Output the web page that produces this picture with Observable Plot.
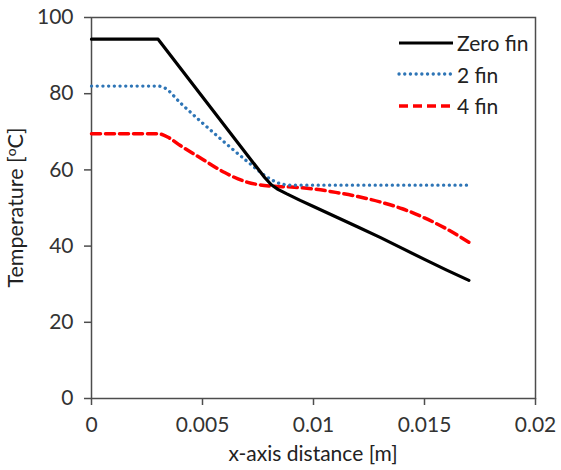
<!DOCTYPE html>
<html><head><meta charset="utf-8">
<script src="https://cdn.jsdelivr.net/npm/d3@7"></script>
<script src="https://cdn.jsdelivr.net/npm/@observablehq/plot@0.6"></script>
<style>
body{margin:0;background:#fff;}
#wrap{position:relative;width:561px;height:470px;font-family:Lato,"Open Sans",sans-serif;}
#legend{position:absolute;left:396px;top:27px;font-size:21px;color:#222;}
#legend .row{display:flex;align-items:center;height:31.5px;}
#legend svg{margin-right:3px;}
</style></head>
<body><div id="wrap"><div id="legend"></div></div>
<script>
const seriesNames = ["Zero fin", "2 fin", "4 fin"];
const colors = ["#000000", "#2E75B6", "#FF0000"];

const xZero = [0, 0.003, 0.0078, 0.0081, 0.0084, 0.0088, 0.0094, 0.010, 0.011, 0.012, 0.013, 0.014, 0.015, 0.016, 0.017];
const yZero = [94.3, 94.3, 58.0, 56.1, 54.9, 53.7, 52.0, 50.4, 47.7, 45, 42.3, 39.4, 36.5, 33.7, 31];

const xTwo = [0, 0.003, 0.0033, 0.004, 0.005, 0.006, 0.007, 0.008, 0.0085, 0.009, 0.010, 0.012, 0.014, 0.016, 0.017];
const yTwo = [82, 82, 81.5, 77.6, 72.3, 67.2, 62.3, 57.8, 56.4, 56, 56, 56, 56, 56, 56];

const xFour = [0, 0.003, 0.0035, 0.004, 0.005, 0.006, 0.007, 0.008, 0.009, 0.010, 0.011, 0.012, 0.013, 0.014, 0.015, 0.016, 0.017];
const yFour = [69.5, 69.5, 68.4, 66.4, 62.8, 59.3, 56.8, 55.8, 55.5, 55, 54.1, 53, 51.6, 49.8, 47.4, 44.5, 41];

const xTicks = [0, 0.005, 0.01, 0.015, 0.02];
const xTickLabels = ["0", "0.005", "0.01", "0.015", "0.02"];
const yTicks = [0, 20, 40, 60, 80, 100];

const toRows = (xs, ys) => xs.map((x, i) => ({x, y: ys[i]}));
const zero = toRows(xZero, yZero);
const two = toRows(xTwo, yTwo);
const four = toRows(xFour, yFour);

const axisColor = "#4d4d4d";
const plot = Plot.plot({
  width: 561,
  height: 470,
  marginLeft: 91,
  marginRight: 26,
  marginTop: 17,
  marginBottom: 72,
  style: {fontFamily: "Lato, 'Open Sans', sans-serif", fontSize: "21px", color: "#333", background: "#fff"},
  x: {domain: [0, 0.02], ticks: xTicks, tickFormat: (d, i) => xTickLabels[i], label: null},
  y: {domain: [0, 100], ticks: yTicks, label: null},
  marks: [
    Plot.frame({stroke: axisColor, strokeWidth: 1.5}),
    Plot.axisX({ticks: xTicks, tickFormat: (d, i) => xTickLabels[i], tickSize: 7, tickPadding: 12, stroke: axisColor, strokeWidth: 1.5, fill: "#333", fontSize: 21, label: null}),
    Plot.axisY({ticks: yTicks, tickSize: 7, tickPadding: 11, stroke: axisColor, strokeWidth: 1.5, fill: "#333", fontSize: 21, label: null}),
    Plot.line(four, {x: "x", y: "y", stroke: colors[2], strokeWidth: 3.5, strokeDasharray: "9 5", curve: "monotone-x"}),
    Plot.line(two, {x: "x", y: "y", stroke: colors[1], strokeWidth: 3.3, strokeDasharray: "0.1 5.6", strokeLinecap: "round", curve: "monotone-x"}),
    Plot.line(zero, {x: "x", y: "y", stroke: colors[0], strokeWidth: 3.2, curve: "linear"})
  ]
});
const wrap = document.getElementById("wrap");
wrap.insertBefore(plot, wrap.firstChild);

// axis titles
const svg = d3.select(plot);
const xs = plot.scale("x"), ys = plot.scale("y");
const xMid = (xs.range[0] + xs.range[1]) / 2;
const yMid = (ys.range[0] + ys.range[1]) / 2;
svg.append("text")
  .attr("x", xMid).attr("y", 456).attr("text-anchor", "middle").attr("dominant-baseline", "middle")
  .attr("font-size", 21).attr("fill", "#222").text("x-axis distance [m]");
const yl = svg.append("text")
  .attr("transform", `translate(18,${yMid}) rotate(-90)`).attr("text-anchor", "middle").attr("dominant-baseline", "middle")
  .attr("font-size", 21.5).attr("fill", "#222");
yl.append("tspan").text("Temperature [");
yl.append("tspan").attr("font-size", 14).attr("baseline-shift", "40%").text("o");
yl.append("tspan").text("C]");

// legend
const legend = d3.select("#legend");
const dashes = [null, "0.1 5.6", "9 5"];
const widths = [3.2, 3.3, 3.5];
seriesNames.forEach((name, i) => {
  const row = legend.append("div").attr("class", "row");
  const s = row.append("svg").attr("width", 58).attr("height", 10);
  s.append("line").attr("x1", 3).attr("x2", 57).attr("y1", 5).attr("y2", 5)
    .attr("stroke", colors[i]).attr("stroke-width", widths[i])
    .attr("stroke-linecap", i === 1 ? "round" : "butt")
    .attr("stroke-dasharray", dashes[i]);
  row.append("span").text(name);
});
</script></body></html>
